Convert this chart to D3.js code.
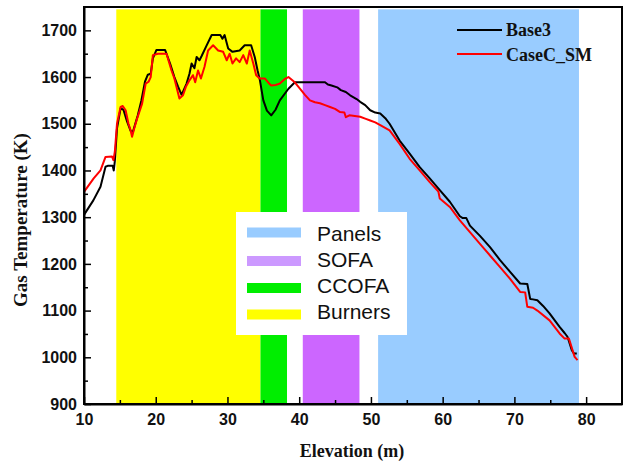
<!DOCTYPE html>
<html>
<head>
<meta charset="utf-8">
<script src="https://cdn.jsdelivr.net/npm/d3@7"></script>
<style>
  html, body { margin: 0; padding: 0; background: #fff; }
  svg { display: block; }
</style>
</head>
<body>
<svg id="chart" width="627" height="464"></svg>
<script>
// ---------- data ----------
const base3X = [10.0,11.3,12.3,13.0,13.3,14.0,14.15,14.3,14.6,15.1,15.5,16.0,16.5,16.8,17.5,18.0,18.5,18.9,19.3,19.6,20.1,21.3,22.0,22.6,23.1,23.6,24.3,24.7,25.0,25.4,25.7,26.1,26.4,27.1,27.8,29.0,29.3,29.6,30.1,30.7,31.7,32.4,33.3,33.8,34.2,34.5,35.0,35.5,36.1,36.7,37.3,38.5,39.4,43.6,44.0,44.5,45.3,45.8,46.5,47.1,48.0,48.5,49.2,49.9,50.6,51.3,52.0,52.6,54.0,55.4,56.8,58.2,59.6,61.0,62.4,62.8,63.3,63.8,65.2,66.6,68.0,69.4,70.8,71.8,72.2,72.6,73.2,74.0,74.9,76.3,77.0,77.4,78.0,78.3,78.7];
const base3T = [1305,1336,1365,1408,1410,1410,1400,1420,1490,1533,1530,1505,1485,1482,1518,1550,1590,1605,1607,1640,1658,1658,1629,1600,1580,1562,1586,1607,1629,1619,1643,1636,1645,1668,1690,1690,1682,1690,1661,1654,1657,1668,1668,1643,1614,1595,1550,1528,1518,1530,1550,1575,1589,1589,1584,1582,1578,1572,1568,1561,1553,1547,1540,1529,1524,1522,1512,1500,1464,1436,1407,1383,1358,1333,1302,1298,1298,1282,1260,1236,1208,1183,1158,1157,1125,1124,1122,1110,1094,1065,1052,1044,1015,1008,1008];

const caseX = [10.0,11.35,12.3,13.0,13.9,14.1,14.3,14.6,15.1,15.4,15.8,16.2,16.5,16.7,17.0,17.4,18.1,18.6,19.0,19.3,19.6,20.3,21.5,22.2,22.6,23.3,23.8,24.2,24.7,25.2,25.5,25.9,26.3,26.8,27.3,28.0,28.7,29.4,29.9,30.3,30.7,31.2,31.7,32.2,32.7,33.1,33.6,34.0,34.5,35.2,35.7,36.1,36.7,37.3,38.0,38.5,39.3,40.1,40.8,41.5,42.2,42.9,43.6,44.3,45.0,45.7,46.3,46.5,47.0,48.5,49.2,49.9,50.6,51.3,52.6,54.0,55.4,56.8,58.2,59.4,59.6,61.0,62.4,63.8,65.2,66.6,68.0,69.4,70.8,71.5,71.8,72.6,73.2,74.9,76.3,77.0,77.6,78.4,78.8];
const caseT = [1354,1383,1400,1429,1430,1422,1440,1500,1536,1538,1529,1500,1486,1472,1490,1511,1543,1586,1590,1600,1647,1650,1650,1614,1597,1554,1561,1579,1593,1604,1589,1614,1597,1622,1657,1668,1657,1654,1636,1650,1629,1640,1632,1647,1629,1657,1629,1604,1597,1597,1588,1582,1583,1586,1596,1600,1590,1575,1562,1550,1546,1544,1540,1536,1532,1525,1524,1514,1518,1515,1511,1507,1503,1497,1486,1457,1425,1400,1375,1355,1340,1322,1293,1268,1243,1218,1193,1168,1140,1139,1108,1106,1100,1079,1051,1040,1040,1001,994];

const seriesNames = ["Base3", "CaseC_SM"];
const seriesColors = ["#000000", "#ff0000"];

// region bands (elevation ranges)
const bandNames = ["Burners", "CCOFA", "SOFA", "Panels"];
const bandStart = [14.5, 34.6, 40.5, 51.0];
const bandEnd   = [34.6, 38.3, 48.4, 79.0];
const bandColors = ["#ffff00", "#00ee00", "#cc66ff", "#99ccff"];
const bandSwatchColors = ["#ffff00", "#00ee00", "#cc99ff", "#99ccff"];
const bandLegendOrder = ["Panels", "SOFA", "CCOFA", "Burners"];

const xMajorTicks = [10,20,30,40,50,60,70,80];
const xMinorTicks = [15,25,35,45,55,65,75];
const yMajorTicks = [900,1000,1100,1200,1300,1400,1500,1600,1700];
const yMinorTicks = [950,1050,1150,1250,1350,1450,1550,1650];

// ---------- layout ----------
const svg = d3.select("#chart");
const L = 84, R = 622, T = 7, B = 404;
const x = d3.scaleLinear().domain([10, 85]).range([L, R]);
const y = d3.scaleLinear().domain([900, 1750]).range([B, T]);

// bands
svg.append("g").selectAll("rect").data(bandNames).join("rect")
  .attr("x", (d,i) => x(bandStart[i]))
  .attr("width", (d,i) => x(bandEnd[i]) - x(bandStart[i]))
  .attr("y", y(1745))
  .attr("height", y(900) - y(1745))
  .attr("fill", (d,i) => bandColors[i]);

// band legend box
const lg = svg.append("g");
lg.append("rect").attr("x", 236).attr("y", 212).attr("width", 171).attr("height", 123).attr("fill", "#fff");
const rowCY = [232.5, 261, 288, 314.5];
const rowBase = [241, 266.5, 292.5, 318.5];
bandLegendOrder.forEach((name, i) => {
  const bi = bandNames.indexOf(name);
  lg.append("rect").attr("x", 247).attr("y", rowCY[i] - 5).attr("width", 54).attr("height", 10)
    .attr("fill", bandSwatchColors[bi]);
  lg.append("text").attr("x", 317).attr("y", rowBase[i])
    .attr("font-family", "Liberation Sans, Arial, sans-serif").attr("font-size", 21)
    .attr("fill", "#111").text(name);
});

// lines
const line = d3.line().x(d => x(d[0])).y(d => y(d[1]));
const seriesData = [d3.zip(base3X, base3T), d3.zip(caseX, caseT)];
seriesData.forEach((pts, i) => {
  svg.append("path").datum(pts).attr("d", line)
    .attr("fill", "none").attr("stroke", seriesColors[i]).attr("stroke-width", 2)
    .attr("stroke-linejoin", "round");
});

// line legend
const legY = [30, 54];
const legBase = [36, 61];
seriesNames.forEach((n, i) => {
  svg.append("line").attr("x1", 457).attr("x2", 502).attr("y1", legY[i]).attr("y2", legY[i])
    .attr("stroke", seriesColors[i]).attr("stroke-width", 2);
  svg.append("text").attr("x", 506).attr("y", legBase[i])
    .attr("font-family", "Liberation Serif, Times New Roman, serif").attr("font-weight", "bold")
    .attr("font-size", 18).attr("fill", "#111").text(n);
});

// frame
svg.append("rect").attr("x", L).attr("y", T).attr("width", R - L).attr("height", B - T)
  .attr("fill", "none").attr("stroke", "#000").attr("stroke-width", 2);

// axes
const tickFont = g => g.selectAll("text")
  .attr("font-family", "Liberation Sans, Arial, sans-serif").attr("font-weight", "bold")
  .attr("font-size", 16).attr("fill", "#111");

const xAx = svg.append("g").attr("transform", `translate(0,${B})`)
  .call(d3.axisBottom(x).tickValues(xMajorTicks).tickSizeInner(-7).tickSizeOuter(0).tickPadding(10).tickFormat(d3.format("d")));
xAx.call(tickFont);
svg.append("g").attr("transform", `translate(0,${B})`)
  .call(d3.axisBottom(x).tickValues(xMinorTicks).tickSizeInner(-4).tickSizeOuter(0).tickFormat(""))
  .select(".domain").remove();

const yAx = svg.append("g").attr("transform", `translate(${L},0)`)
  .call(d3.axisLeft(y).tickValues(yMajorTicks).tickSizeInner(-7).tickSizeOuter(0).tickPadding(7).tickFormat(d3.format("d")));
yAx.call(tickFont);
svg.append("g").attr("transform", `translate(${L},0)`)
  .call(d3.axisLeft(y).tickValues(yMinorTicks).tickSizeInner(-4).tickSizeOuter(0).tickFormat(""))
  .select(".domain").remove();

svg.selectAll(".domain").attr("stroke-width", 2);
svg.selectAll(".tick line").attr("stroke-width", 1.5);

// axis titles
svg.append("text").attr("x", 352).attr("y", 457).attr("text-anchor", "middle")
  .attr("font-family", "Liberation Serif, Times New Roman, serif").attr("font-weight", "bold")
  .attr("font-size", 18).attr("fill", "#111").text("Elevation (m)");
svg.append("text").attr("transform", "translate(27,220) rotate(-90)").attr("text-anchor", "middle")
  .attr("font-family", "Liberation Serif, Times New Roman, serif").attr("font-weight", "bold")
  .attr("font-size", 19).attr("fill", "#111").text("Gas Temperature (K)");
</script>
</body>
</html>
